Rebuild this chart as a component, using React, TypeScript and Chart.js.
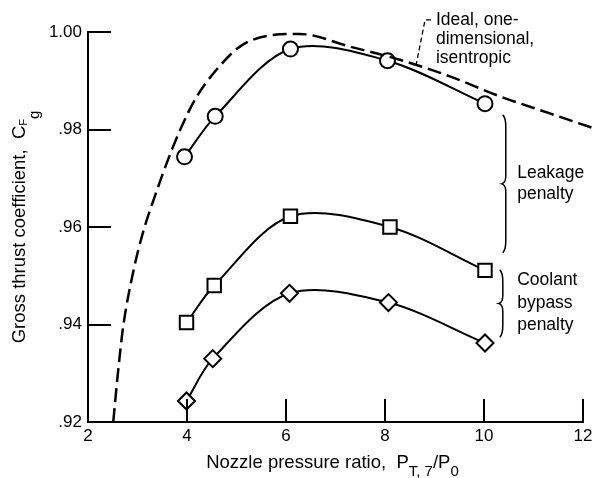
import React, { useEffect, useRef } from "react";
import { Chart, registerables } from "chart.js";

Chart.register(...registerables);

const FONT = '"Liberation Sans", Arial, sans-serif';

// ---- data ----
const circleX = [3.95, 4.57, 6.09, 8.05, 10.02];
const circleY = [0.9744, 0.9827, 0.9965, 0.9941, 0.9853];

const squareX = [3.99, 4.55, 6.09, 8.1, 10.02];
const squareY = [0.9404, 0.948, 0.9622, 0.96, 0.9511];

const diamondX = [3.99, 4.52, 6.07, 8.07, 10.02];
const diamondY = [0.9243, 0.933, 0.9464, 0.9445, 0.9362];

const idealX = [2.51, 2.61, 2.71, 2.92, 3.12, 3.35, 3.59, 3.86, 4.2, 4.6, 5.07, 5.61, 6.28, 7.29, 8.3, 9.31, 10.32, 11.33, 12.2];
const idealY = [0.92, 0.9306, 0.9395, 0.9511, 0.9592, 0.9663, 0.9731, 0.9799, 0.9868, 0.9923, 0.997, 0.9992, 0.9996, 0.997, 0.9943, 0.9909, 0.9868, 0.9833, 0.9803];

// ---- axes ----
const xMin = 2;
const xMax = 12;
const yMin = 0.92;
const yMax = 1.0;
const xTickValues = [2, 4, 6, 8, 10, 12];
const xTickLabels = ["2", "4", "6", "8", "10", "12"];
const yTickValues = [0.92, 0.94, 0.96, 0.98, 1.0];
const yTickLabels = [".92", ".94", ".96", ".98", "1.00"];

// ---- annotations (data coordinates) ----
const idealText = ["Ideal, one-", "dimensional,", "isentropic"];
const idealTextX = 9.03;
const idealTextY = [1.0015, 0.9976, 0.9937];
const leaderX = [8.93, 8.81, 8.63];
const leaderY = [1.0025, 1.0025, 0.9933];

const leakageText = ["Leakage", "penalty"];
const leakageTextX = 10.67;
const leakageTextY = [0.97005, 0.96573];
const leakageBraceX = 10.42;
const leakageBraceY = [0.983, 0.9547];

const coolantText = ["Coolant", "bypass", "penalty"];
const coolantTextX = 10.67;
const coolantTextY = [0.94806, 0.94333, 0.93881];
const coolantBraceX = 10.36;
const coolantBraceY = [0.9512, 0.9374];

const xTitleParts = [
  { t: "Nozzle pressure ratio,  P", size: 18.5, dy: 0 },
  { t: "T, 7", size: 15, dy: 8 },
  { t: "/", size: 18.5, dy: 0 },
  { t: "P", size: 18.5, dy: 0 },
  { t: "0", size: 15, dy: 8 },
];
const yTitleParts = [
  { t: "Gross thrust coefficient,  C", size: 18.5, dy: 0 },
  { t: "F", size: 11, dy: 2 },
  { t: "g", size: 15, dy: 14 },
];

const TICK_LEN = 23;

const pts = (xs: number[], ys: number[]) => xs.map((x, i) => ({ x, y: ys[i] }));

function drawParts(ctx: CanvasRenderingContext2D, parts: { t: string; size: number; dy: number }[], cx: number) {
  let total = 0;
  const widths = parts.map((p) => {
    ctx.font = `${p.size}px ${FONT}`;
    const w = ctx.measureText(p.t).width;
    total += w;
    return w;
  });
  let x = cx - total / 2;
  parts.forEach((p, i) => {
    ctx.font = `${p.size}px ${FONT}`;
    ctx.fillText(p.t, x, p.dy);
    x += widths[i];
  });
}

function drawBrace(ctx: CanvasRenderingContext2D, x: number, top: number, bottom: number) {
  const mid = (top + bottom) / 2;
  ctx.beginPath();
  ctx.moveTo(x - 2, top);
  ctx.quadraticCurveTo(x + 1, top + 3, x + 1, top + 12);
  ctx.lineTo(x + 1, mid - 8);
  ctx.quadraticCurveTo(x + 1, mid - 1, x - 3, mid);
  ctx.quadraticCurveTo(x + 1, mid + 1, x + 1, mid + 8);
  ctx.lineTo(x + 1, bottom - 12);
  ctx.quadraticCurveTo(x + 1, bottom - 3, x - 2, bottom);
  ctx.stroke();
}

const extrasPlugin = {
  id: "figureExtras",
  afterDraw(chart: any) {
    const { ctx, chartArea } = chart;
    const xs = chart.scales.x;
    const ys = chart.scales.y;
    const px = (v: number) => xs.getPixelForValue(v);
    const py = (v: number) => ys.getPixelForValue(v);
    ctx.save();
    ctx.strokeStyle = "#000";
    ctx.fillStyle = "#000";

    // inward tick marks
    ctx.lineWidth = 2;
    ctx.beginPath();
    yTickValues.forEach((v) => {
      if (v === yMin) return;
      const y = Math.round(py(v));
      ctx.moveTo(chartArea.left, y);
      ctx.lineTo(chartArea.left + TICK_LEN, y);
    });
    xTickValues.forEach((v) => {
      if (v === xMin) return;
      const x = Math.round(px(v));
      ctx.moveTo(x, chartArea.bottom);
      ctx.lineTo(x, chartArea.bottom - TICK_LEN);
    });
    ctx.stroke();

    // leader line for the ideal curve
    ctx.lineWidth = 1.3;
    ctx.setLineDash([5, 3]);
    ctx.beginPath();
    leaderX.forEach((v, i) => {
      if (i === 0) ctx.moveTo(px(v), py(leaderY[i]));
      else ctx.lineTo(px(v), py(leaderY[i]));
    });
    ctx.stroke();
    ctx.setLineDash([]);

    // braces
    ctx.lineWidth = 1.5;
    drawBrace(ctx, px(leakageBraceX), py(leakageBraceY[0]), py(leakageBraceY[1]));
    drawBrace(ctx, px(coolantBraceX), py(coolantBraceY[0]), py(coolantBraceY[1]));

    // annotation texts
    ctx.font = `17.5px ${FONT}`;
    ctx.textAlign = "left";
    ctx.textBaseline = "alphabetic";
    idealText.forEach((t, i) => ctx.fillText(t, px(idealTextX), py(idealTextY[i])));
    leakageText.forEach((t, i) => ctx.fillText(t, px(leakageTextX), py(leakageTextY[i])));
    coolantText.forEach((t, i) => ctx.fillText(t, px(coolantTextX), py(coolantTextY[i])));

    // x axis title
    ctx.save();
    ctx.translate(0, chartArea.bottom + 46);
    drawParts(ctx, xTitleParts, (chartArea.left + chartArea.right) / 2 - 3);
    ctx.restore();

    // y axis title
    ctx.save();
    ctx.translate(25, (chartArea.top + chartArea.bottom) / 2);
    ctx.rotate(-Math.PI / 2);
    drawParts(ctx, yTitleParts, 0);
    ctx.restore();

    ctx.restore();
  },
};

export default function App() {
  const canvasRef = useRef<HTMLCanvasElement | null>(null);

  useEffect(() => {
    const canvas = canvasRef.current;
    if (!canvas) return;
    const markerCommon = {
      showLine: true,
      borderColor: "#000",
      borderWidth: 2,
      tension: 0.32,
      pointBackgroundColor: "#fff",
      pointBorderColor: "#000",
      pointBorderWidth: 2,
      clip: false as const,
    };
    const chart = new Chart(canvas, {
      type: "scatter",
      data: {
        datasets: [
          {
            label: "Ideal, one-dimensional, isentropic",
            data: pts(idealX, idealY),
            showLine: true,
            borderColor: "#000",
            borderWidth: 2.5,
            borderDash: [14, 6],
            cubicInterpolationMode: "monotone",
            pointRadius: 0,
            clip: false,
          },
          { ...markerCommon, label: "Circles", data: pts(circleX, circleY), pointStyle: "circle", pointRadius: 7.5 },
          { ...markerCommon, label: "Squares", data: pts(squareX, squareY), pointStyle: "rect", pointRadius: 9.5 },
          { ...markerCommon, label: "Diamonds", data: pts(diamondX, diamondY), pointStyle: "rectRot", pointRadius: 8.5 },
        ] as any,
      },
      options: {
        animation: false,
        responsive: false,
        devicePixelRatio: 1,
        layout: { padding: { left: 0, right: 16, top: 32, bottom: 0 } },
        plugins: { legend: { display: false }, tooltip: { enabled: false } },
        scales: {
          x: {
            type: "linear",
            min: xMin,
            max: xMax,
            afterBuildTicks: (s: any) => {
              s.ticks = xTickValues.map((v) => ({ value: v }));
            },
            afterFit: (s: any) => {
              s.height = 56;
            },
            grid: { display: false, drawTicks: false },
            border: { display: true, color: "#000", width: 2 },
            ticks: {
              color: "#000",
              font: { family: FONT, size: 17 },
              padding: 4,
              maxRotation: 0,
              callback: (_v: any, i: number) => xTickLabels[i],
            },
          },
          y: {
            type: "linear",
            min: yMin,
            max: yMax,
            afterBuildTicks: (s: any) => {
              s.ticks = yTickValues.map((v) => ({ value: v }));
            },
            afterFit: (s: any) => {
              s.width = 88;
            },
            grid: { display: false, drawTicks: false },
            border: { display: true, color: "#000", width: 2 },
            ticks: {
              color: "#000",
              font: { family: FONT, size: 17 },
              padding: 6,
              callback: (_v: any, i: number) => yTickLabels[i],
            },
          },
        },
      },
      plugins: [extrasPlugin],
    });
    return () => chart.destroy();
  }, []);

  return (
    <div style={{ position: "absolute", left: 0, top: 0, width: 599, height: 478, background: "#fff" }}>
      <canvas ref={canvasRef} width={599} height={478} style={{ display: "block" }} />
    </div>
  );
}
